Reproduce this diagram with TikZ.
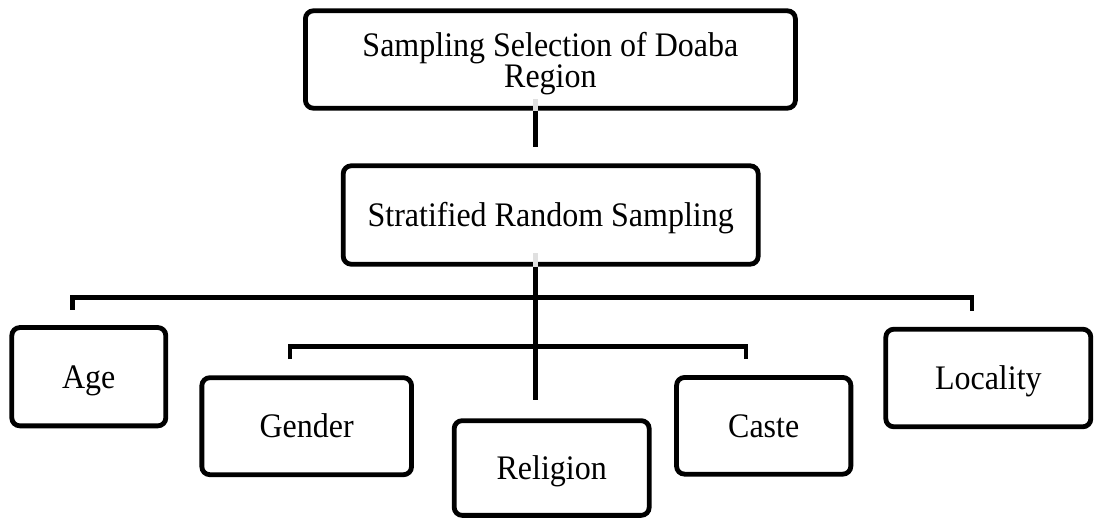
\documentclass[tikz,border=0pt]{standalone}
\usepackage{fontspec}
\setmainfont{Liberation Serif}[FakeStretch=0.93]
\begin{document}
\begin{tikzpicture}[x=1pt,y=-1pt,
  box/.style={draw=black, line width=4.8pt, rounded corners=8pt, inner sep=0pt,
    font=\fontsize{34.4}{30.5}\selectfont, text height=22.7pt, text depth=0pt},
  conn/.style={draw=black, line width=4.8pt, line join=miter},
  ghost/.style={draw=black!12, line width=4.8pt}]
\useasboundingbox (0,0) rectangle (1094,517);
% boxes
\node[box, minimum width=490pt, minimum height=97.4pt, align=center, text height=55.6pt]
  (top) at (550.4,59.5) {Sampling Selection of Doaba\\Region};
\node[box, minimum width=415pt, minimum height=98.4pt] (strat) at (550.7,215) {Stratified Random Sampling};
\node[box, minimum width=154pt, minimum height=98.3pt] (age) at (88.8,376.7) {Age};
\node[box, minimum width=209.7pt, minimum height=97pt] (gender) at (306.7,426.2) {Gender};
\node[box, minimum width=195pt, minimum height=94.7pt] (religion) at (551.7,468) {Religion};
\node[box, minimum width=174.3pt, minimum height=96.7pt] (caste) at (763.7,425.8) {Caste};
\node[box, minimum width=205pt, minimum height=97.6pt] (locality) at (988.3,378) {Locality};
% free ends
\coordinate (t1) at (535.5,146.7);
\coordinate (m1) at (535.5,400);
\coordinate (b1l) at (72.5,309.5);
\coordinate (b1r) at (972,311);
\coordinate (b2l) at (290,359);
\coordinate (b2r) at (746,358.5);
% faint segments inside boxes
\draw[ghost] (t1 |- top.south) -- ++(0,-12);
\draw[ghost] (m1 |- strat.south) -- ++(0,-14);
% connectors
\draw[conn] (t1 |- top.south) -- (t1);
\draw[conn] (m1 |- strat.south) -- (m1);
\draw[conn] (b1l) -- ++(0,-11.7) -| (b1r);
\draw[conn] (b2l) -- ++(0,-12.3) -| (b2r);
\end{tikzpicture}
\end{document}
